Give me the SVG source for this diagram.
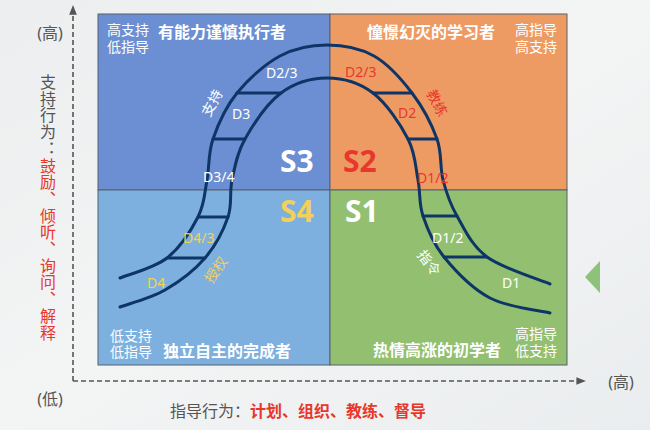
<svg xmlns="http://www.w3.org/2000/svg" width="650" height="430" viewBox="0 0 650 430">
<defs>
<linearGradient id="bg" x1="0" y1="0" x2="1" y2="1">
<stop offset="0" stop-color="#eceeef"/>
<stop offset="0.5" stop-color="#f3f4f4"/>
<stop offset="1" stop-color="#eaedef"/>
</linearGradient>
<marker id="arr" viewBox="0 0 10 10" refX="9" refY="5" markerWidth="6" markerHeight="6" orient="auto-start-reverse">
<path d="M0,1 L10,5 L0,9 z" fill="#555"/>
</marker>
<style>
.t{font-family:"Noto Sans","Noto Sans CJK SC",sans-serif;}
.w{fill:#fff;}
.sm{font-size:14px;font-family:"Liberation Sans","Noto Sans CJK SC",sans-serif;}
.ti{font-size:16px;font-weight:bold;fill:#fff;}
.d{font-size:14px;}
.big{font-size:30px;font-weight:bold;}
.red{fill:#e8372c;}
.yel{fill:#f3d05a;}
.gray{fill:#555;}
.vt{writing-mode:vertical-rl;font-size:16px;letter-spacing:0.7px;}
.q{stroke:#56606c;stroke-width:1;}
.curve{fill:none;stroke:#0e3566;stroke-width:3;stroke-linecap:round;}
.axis{fill:none;stroke:#555;stroke-width:1.6;stroke-dasharray:5 3;}
</style>
</defs>
<rect width="650" height="430" fill="url(#bg)"/>

<g id="axes">
<line class="axis" x1="73" y1="381" x2="73" y2="6" marker-end="url(#arr)"/>
<line class="axis" x1="73" y1="381" x2="585" y2="381" marker-end="url(#arr)"/>
</g>

<g id="q-s3"><rect class="q" x="98" y="14" width="232" height="176" fill="#6b8fd2"/>
<text class="w sm"><tspan x="107" y="35">高支持</tspan><tspan x="107" y="52">低指导</tspan></text>
<text class="t ti" x="158" y="38">有能力谨慎执行者</text>
<text class="t big w" x="280" y="172">S3</text>
</g>
<g id="q-s2"><rect class="q" x="330" y="14" width="237" height="176" fill="#ee9b63"/>
<text class="t ti" x="367" y="38">憧憬幻灭的学习者</text>
<text class="w sm"><tspan x="515" y="35">高指导</tspan><tspan x="515" y="52">高支持</tspan></text>
<text class="t big red" x="343" y="172">S2</text>
</g>
<g id="q-s4"><rect class="q" x="98" y="190" width="232" height="175" fill="#7db0de"/>
<text class="w sm"><tspan x="110" y="341">低支持</tspan><tspan x="110" y="357">低指导</tspan></text>
<text class="t ti" x="163" y="357">独立自主的完成者</text>
<text class="t big yel" x="280" y="222">S4</text>
</g>
<g id="q-s1"><rect class="q" x="330" y="190" width="237" height="175" fill="#92c070"/>
<text class="w sm"><tspan x="515" y="339">高指导</tspan><tspan x="515" y="356">低支持</tspan></text>
<text class="t ti" x="373" y="356">热情高涨的初学者</text>
<text class="t big w" x="345" y="222">S1</text>
</g>

<g id="connectors">
<path class="curve" d="M120,278 C127.8,274.7 154,268.2 167,258 C180,247.8 191.3,230 198,217 C204.7,204 204.5,193 207,180 C209.5,167 208,153.5 213,139 C218,124.5 225.8,106.8 237,93 C248.2,79.2 265,64 280,56 C295,48 311.3,45 327,45 C342.7,45 359.8,48 374,56 C388.2,64 401.5,79.2 412,93 C422.5,106.8 431.8,124.5 437,139 C442.2,153.5 439.7,167.2 443,180 C446.3,192.8 449.7,203.2 457,216 C464.3,228.8 471.5,245.7 487,257 C502.5,268.3 539.5,279.5 550,284"/>
<path class="curve" d="M120,307 C127.5,304.2 150.8,298.2 165,290 C179.2,281.8 194.5,270.2 205,258 C215.5,245.8 223.5,230 228,217 C232.5,204 229.2,193 232,180 C234.8,167 236.8,153.5 245,139 C253.2,124.5 267.3,103.2 281,93 C294.7,82.8 311.7,78 327,78 C342.3,78 359.5,82.8 373,93 C386.5,103.2 400.5,124.5 408,139 C415.5,153.5 415.5,167.2 418,180 C420.5,192.8 418.7,203.2 423,216 C427.3,228.8 432.8,243.3 444,257 C455.2,270.7 472.3,288.7 490,298 C507.7,307.3 540,310.5 550,313"/>
<line class="curve" x1="237" y1="93" x2="281" y2="93"/>
<line class="curve" x1="373" y1="93" x2="412" y2="93"/>
<line class="curve" x1="213" y1="139" x2="245" y2="139"/>
<line class="curve" x1="408" y1="139" x2="437" y2="139"/>
<line class="curve" x1="198" y1="217" x2="228" y2="217"/>
<line class="curve" x1="423" y1="216" x2="457" y2="216"/>
<line class="curve" x1="167" y1="258" x2="205" y2="258"/>
<line class="curve" x1="444" y1="257" x2="487" y2="257"/>
</g>

<g id="curve-labels">
<text class="t d w" x="266" y="78">D2/3</text>
<text class="t d w" x="232" y="119">D3</text>
<text class="t d w" x="203" y="182">D3/4</text>
<text class="t d w" x="0" y="0" transform="translate(212,103) rotate(-62)" text-anchor="middle" dy="5">支持</text>
<text class="t d red" x="345" y="77">D2/3</text>
<text class="t d red" x="398" y="118">D2</text>
<text class="t d red" x="417" y="183">D1/2</text>
<text class="t d red" x="0" y="0" transform="translate(437,103) rotate(62)" text-anchor="middle" dy="5">教练</text>
<text class="t d w" x="432" y="243">D1/2</text>
<text class="t d w" x="502" y="288">D1</text>
<text class="t d w" x="0" y="0" transform="translate(429,263) rotate(52)" text-anchor="middle" dy="5">指令</text>
<text class="t d yel" x="183" y="243">D4/3</text>
<text class="t d yel" x="147" y="288">D4</text>
<text class="t d yel" x="0" y="0" transform="translate(216,270) rotate(-55)" text-anchor="middle" dy="5">授权</text>
</g>

<g id="axis-labels">
<text class="t gray" x="50" y="39" font-size="16" text-anchor="middle">(高)</text>
<text class="t gray" x="50" y="405" font-size="16" text-anchor="middle">(低)</text>
<text class="t gray" x="621" y="388" font-size="16" text-anchor="middle">(高)</text>
<text class="t vt gray" x="47" y="74">支持行为：</text>
<text class="t vt red" x="47" y="157.5">鼓励、倾听、询问、解释</text>
<text class="t" font-size="16" x="170" y="417"><tspan class="gray">指导行为：</tspan><tspan class="red" font-weight="bold">计划、组织、教练、督导</tspan></text>
</g>

<g id="nav-triangle">
<path d="M585,277 L600,261 L600,293 Z" fill="#8cc27a"/>
</g>
</svg>
